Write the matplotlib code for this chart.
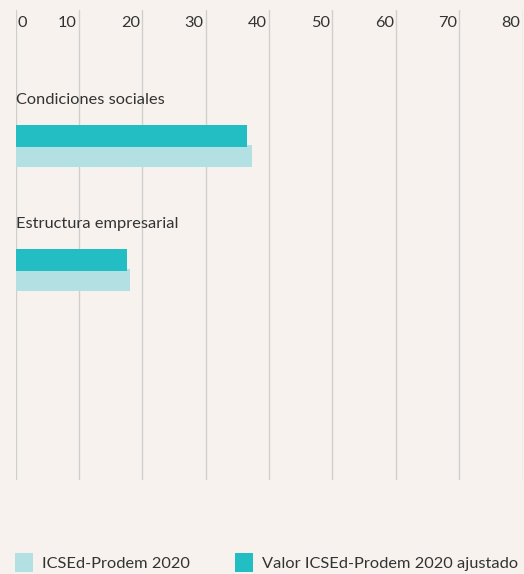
import matplotlib
matplotlib.use("Agg")
from matplotlib import pyplot as plt
from matplotlib.patches import Patch
import numpy as np

# Data
categories = ["Condiciones sociales", "Estructura empresarial"]
icsed_2020 = [37.3, 18.1]
icsed_ajustado = [36.5, 17.6]
x_ticks = [0, 10, 20, 30, 40, 50, 60, 70, 80]

BG = "#f7f2ee"
DARK = "#22bec4"
LIGHT = "#b3e0e3"
TEXT = "#333333"
GRID = "#cfcfcf"

plt.rcParams["font.family"] = ["Lato", "DejaVu Sans"]
FS = 11.8

fig = plt.figure(figsize=(5.24, 5.74), dpi=100, facecolor=BG)
W, H = 524, 574
# axes spans the gridline area (pixels)
left, right, top, bottom = 15.5, 522.5, 10, 480
ax = fig.add_axes([left / W, 1 - bottom / H, (right - left) / W, (bottom - top) / H])
ax.set_facecolor(BG)

y = np.arange(len(categories))
h = 0.177
off = 0.081
ax.barh(y - off, icsed_ajustado, height=h, color=DARK, zorder=3)
ax.barh(y + off, icsed_2020, height=h, color=LIGHT, zorder=2)

ax.set_xlim(0, 80)
ax.set_ylim(2.694, -1.097)

# vertical gridlines
for t in x_ticks:
    ax.axvline(t, color=GRID, lw=1.0, zorder=1)

# tick labels at top
for t in x_ticks:
    if t == 0:
        ax.text(t + 0.3, -0.99, str(t), ha="left", va="center", fontsize=FS, color=TEXT)
    else:
        ax.text(t - 0.3, -0.99, str(t), ha="right", va="center", fontsize=FS, color=TEXT)

# category labels above bars
for i, c in enumerate(categories):
    ax.text(0, i - 0.37, c, ha="left", va="center", fontsize=FS, color=TEXT)

for s in ax.spines.values():
    s.set_visible(False)
ax.set_xticks([])
ax.set_yticks([])

handles = [Patch(facecolor=LIGHT, label="ICSEd-Prodem 2020"),
           Patch(facecolor=DARK, label="Valor ICSEd-Prodem 2020 ajustado")]
leg = fig.legend(handles=handles, loc="lower left", ncol=2, frameon=False,
                 bbox_to_anchor=(13 / W, 0.0), fontsize=FS,
                 handlelength=1.1, handleheight=1.4, handletextpad=0.55,
                 columnspacing=2.75, borderaxespad=0.1, borderpad=0.0)
for txt in leg.get_texts():
    txt.set_color(TEXT)

fig.savefig("out.png", dpi=100, facecolor=BG)
